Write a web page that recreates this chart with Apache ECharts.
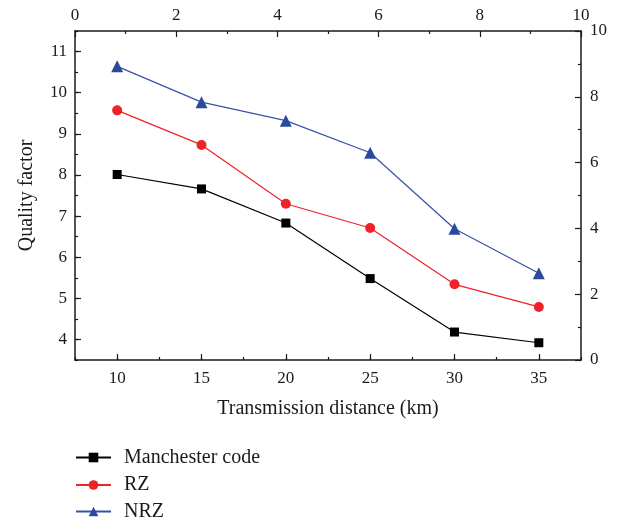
<!DOCTYPE html>
<html>
<head>
<meta charset="utf-8">
<title>Quality factor</title>
<script src="https://cdn.jsdelivr.net/npm/echarts@6/dist/echarts.min.js"></script>
<style>
  html, body {margin: 0; padding: 0; background: #fff;}
  #chart {width: 621px; height: 522px;}
</style>
</head>
<body>
<div id="chart"></div>
<script>
  // data
  let distance = [10, 15, 20, 25, 30, 35];
  let manchester = [8.01, 7.66, 6.83, 5.48, 4.18, 3.92];
  let rz = [9.57, 8.73, 7.30, 6.71, 5.34, 4.79];
  let nrz = [10.64, 9.77, 9.32, 8.54, 6.69, 5.61];
  let xTicks = [10, 15, 20, 25, 30, 35];
  let yTicks = [4, 5, 6, 7, 8, 9, 10, 11];
  let names = ['Manchester code', 'RZ', 'NRZ'];

  let font = 'Liberation Serif';
  let axisColor = '#1a1a1a';

  function pairs(vals){
    return vals.map((v, i) => [distance[i], v]);
  }

  // one legend block per row so the rows stay stacked
  function legendRow(name, top){
    return {
      orient: 'vertical',
      left: 75,
      top: top,
      padding: 0,
      itemWidth: 35,
      itemHeight: 12,
      textStyle: {fontFamily: font, fontSize: 20, color: '#1a1a1a', padding: [0, 0, 0, 8]},
      data: [name]
    };
  }

  let labelStyle = {fontFamily: font, fontSize: 17, color: '#1a1a1a'};

  let option = {
    animation: false,
    backgroundColor: '#fff',
    grid: {left: 75, top: 31, right: 40, bottom: 162, containLabel: false},
    legend: [
      legendRow(names[0], 447.5),
      legendRow(names[1], 475),
      legendRow(names[2], 501.5)
    ],
    xAxis: [
      {
        // bottom axis, major ticks + labels
        type: 'value', position: 'bottom', min: 7.5, max: 37.5,
        name: 'Transmission distance (km)', nameLocation: 'middle', nameGap: 39,
        nameTextStyle: {fontFamily: font, fontSize: 20, color: '#1a1a1a'},
        axisLine: {show: true, lineStyle: {color: axisColor, width: 1.5}},
        axisTick: {show: true, inside: true, length: 6, customValues: xTicks, lineStyle: {color: axisColor, width: 1.2}},
        axisLabel: Object.assign({margin: 10, customValues: xTicks}, labelStyle),
        splitLine: {show: false}
      },
      {
        // bottom axis, minor ticks
        type: 'value', position: 'bottom', min: 7.5, max: 37.5, interval: 2.5,
        axisLine: {show: false},
        axisTick: {show: true, inside: true, length: 3, lineStyle: {color: axisColor, width: 1.2}},
        axisLabel: {show: false},
        splitLine: {show: false}
      },
      {
        type: 'value', position: 'top', min: 0, max: 10, interval: 2,
        axisLine: {show: true, lineStyle: {color: axisColor, width: 1.5}},
        axisTick: {show: true, inside: true, length: 6, lineStyle: {color: axisColor, width: 1.2}},
        minorTick: {show: true, splitNumber: 2, length: 3, lineStyle: {color: axisColor, width: 1.2}},
        axisLabel: Object.assign({margin: 7}, labelStyle),
        splitLine: {show: false}
      }
    ],
    yAxis: [
      {
        type: 'value', position: 'left', min: 3.5, max: 11.5,
        name: 'Quality factor', nameLocation: 'middle', nameGap: 38, nameRotate: 90,
        nameTextStyle: {fontFamily: font, fontSize: 20, color: '#1a1a1a'},
        axisLine: {show: true, lineStyle: {color: axisColor, width: 1.5}},
        axisTick: {show: true, inside: true, length: 6, customValues: yTicks, lineStyle: {color: axisColor, width: 1.2}},
        axisLabel: Object.assign({margin: 8, customValues: yTicks}, labelStyle),
        splitLine: {show: false}
      },
      {
        type: 'value', position: 'left', min: 3.5, max: 11.5, interval: 0.5,
        axisLine: {show: false},
        axisTick: {show: true, inside: true, length: 3, lineStyle: {color: axisColor, width: 1.2}},
        axisLabel: {show: false},
        splitLine: {show: false}
      },
      {
        type: 'value', position: 'right', min: 0, max: 10, interval: 2,
        axisLine: {show: true, lineStyle: {color: axisColor, width: 1.5}},
        axisTick: {show: true, inside: true, length: 6, lineStyle: {color: axisColor, width: 1.2}},
        minorTick: {show: true, splitNumber: 2, length: 3, lineStyle: {color: axisColor, width: 1.2}},
        axisLabel: Object.assign({margin: 9}, labelStyle),
        splitLine: {show: false}
      }
    ],
    series: [
      {
        name: names[0], type: 'line', xAxisIndex: 0, yAxisIndex: 0,
        symbol: 'rect', symbolSize: 9,
        lineStyle: {color: '#000', width: 1.2},
        itemStyle: {color: '#000'},
        data: pairs(manchester)
      },
      {
        name: names[1], type: 'line', xAxisIndex: 0, yAxisIndex: 0,
        symbol: 'circle', symbolSize: 10,
        lineStyle: {color: '#ee2229', width: 1.2},
        itemStyle: {color: '#ee2229'},
        data: pairs(rz)
      },
      {
        name: names[2], type: 'line', xAxisIndex: 0, yAxisIndex: 0,
        symbol: 'triangle', symbolSize: 12,
        lineStyle: {color: '#3552a6', width: 1.2},
        itemStyle: {color: '#2b4a9c'},
        data: pairs(nrz)
      }
    ]
  };

  let chart = echarts.init(document.getElementById('chart'), null, {renderer: 'canvas'});
  chart.setOption(option);
</script>
</body>
</html>
